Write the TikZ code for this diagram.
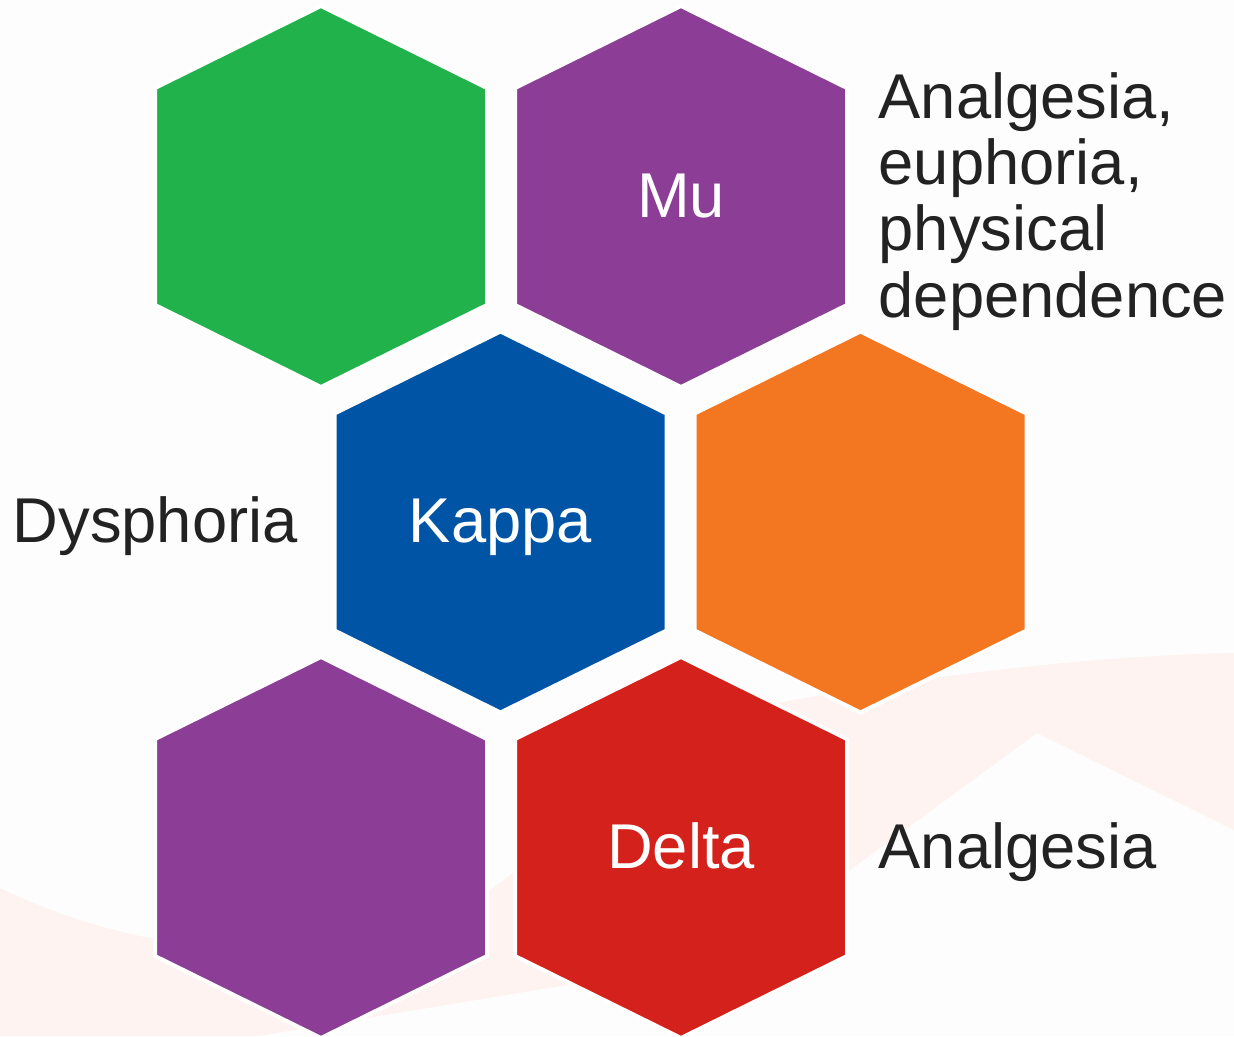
\documentclass[tikz,border=0pt]{standalone}
\usepackage{fontspec}
\setmainfont{Liberation Sans}
\definecolor{hexgreen}{HTML}{21B24B}
\definecolor{hexpurple}{HTML}{8C3D96}
\definecolor{hexblue}{HTML}{0054A6}
\definecolor{hexorange}{HTML}{F37721}
\definecolor{hexred}{HTML}{D5211B}
\definecolor{swoosh}{HTML}{FEF3F1}
\definecolor{paper}{HTML}{FDFDFD}
\definecolor{ink}{HTML}{222222}
\tikzset{
  cell/.style={fill=#1, draw=white, line width=0.04cm},
  cell name/.style={text=white, anchor=base, inner sep=0pt, font=\fontsize{18}{18.8}\selectfont},
  effect/.style={text=ink, anchor=base west, inner sep=0pt, align=left, font=\fontsize{18}{18.8}\selectfont},
}
\begin{document}
\begin{tikzpicture}[x=0.01cm, y=-0.01cm]
            \fill[paper] (0,0) rectangle (1234,1036);
            \useasboundingbox (0,0) rectangle (1234,1036);

            % pale swoosh behind the cells
            \fill[swoosh] (0,888) .. controls (200,985) and (400,950) .. (490,890)
                .. controls (560,843) and (640,740) .. (783,702)
                .. controls (930,675) and (1100,655) .. (1234,653)
                -- (1234,830) -- (1037,733) -- (850,870)
                .. controls (750,940) and (650,970) .. (567,985)
                -- (258,1036) -- (0,1036) -- cycle;

            % honeycomb
            \foreach \name/\cx/\cy/\col in {green/321/196.5/hexgreen, mu/681/196.5/hexpurple,
                kappa/500.5/522/hexblue, orange/860.5/522/hexorange,
                purple/321/847.5/hexpurple, delta/681/847.5/hexred} {
                \coordinate (\name) at (\cx,\cy);
                \filldraw[cell=\col] (\cx,\cy) ++(0,-190.5) -- ++(166,82) -- ++(0,217)
                    -- ++(-166,82) -- ++(-166,-82) -- ++(0,-217) -- cycle;
            }

            \node[cell name] (mu-name) at (681,217) {Mu};
            \node[cell name] (kappa-name) at (500.5,542) {Kappa};
            \node[cell name] (delta-name) at (681,868) {Delta};

            % base anchor of a multi-line node sits on its last line
            \node[effect] (mu-effect) at (878,317) {Analgesia,\\euphoria,\\physical\\dependence};
            \node[effect] (kappa-effect) at (12,542) {Dysphoria};
            \node[effect] (delta-effect) at (878,868) {Analgesia};

        \end{tikzpicture}
\end{document}
